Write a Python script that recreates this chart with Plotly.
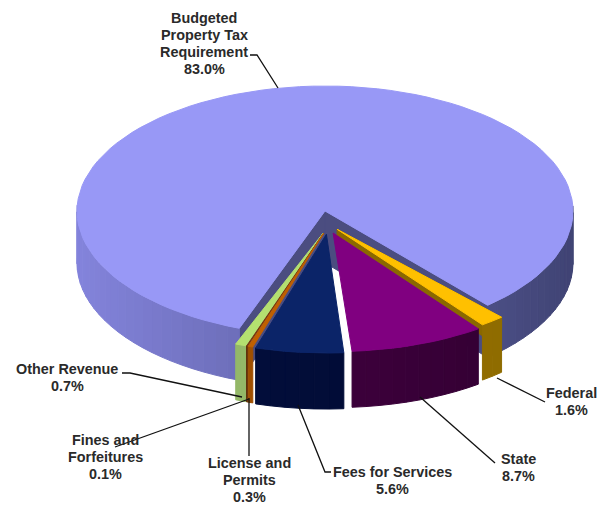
import math
import plotly.graph_objects as go

categories = ["Federal", "State", "Fees for Services", "License and Permits",
              "Fines and Forfeitures", "Other Revenue", "Budgeted Property Tax Requirement"]
values = [1.6, 8.7, 5.6, 0.3, 0.1, 0.7, 83.0]
top_colors = ["#ffc000", "#800080", "#0b2468", "#c06000", "#7a3a10", "#b4e070", "#9898f6"]
side_light = ["#a88000", "#4a0048", "#041040", "#a05000", "#60300c", "#94b868", "#8484dc"]
side_dark = ["#8a6800", "#300030", "#000a30", "#a05000", "#60300c", "#94b868", "#404474"]

label_text = [["Federal", "1.6%"], ["State", "8.7%"], ["Fees for Services", "5.6%"],
              ["License and", "Permits", "0.3%"], ["Fines and", "Forfeitures", "0.1%"],
              ["Other Revenue", "0.7%"], ["Budgeted", "Property Tax", "Requirement", "83.0%"]]
label_x = [571, 518, 392, 249, 105, 67, 204]
label_y = [393, 459, 472, 463, 440, 369, 18]
leader_x = [[497, 545], [420, 495], [298, 325, 331], [249, 249], [249, 115], [122, 130, 242], [250, 257, 278]]
leader_y = [[378, 402], [397, 463], [405, 472, 472], [398, 456], [399, 447], [373, 373, 397], [55, 55, 88]]

CX, CY, RX, H = 325, 211, 248, 52
MAIN_RY, MAIN_K = 125, 0.0
SLICE_RY, SLICE_K = 136, 0.08
START = 139.0
EXPLODE_U, EXPLODE_V, SHIFT_U, R_U, R_V = 0.06, 0.17, 0.012, 0.95, 0.80
STATE_GAP_DEG = 0.25
FEDERAL_WALL = 0.2
LINE_STEP = 17
OFFSET = 8  # the page's body margin


def proj(u, v, z, ry, k):
    w = 1 + k * v
    return CX + RX * u * w, CY + ry * v * w + H * z * w


def hex_rgb(c):
    return tuple(int(c[i:i + 2], 16) for i in (1, 3, 5))


def mix(a, b, t):
    pa, pb = hex_rgb(a), hex_rgb(b)
    return "rgb(%d,%d,%d)" % tuple(pa[i] + (pb[i] - pa[i]) * t for i in range(3))


def poly(fig, pts, color):
    xs = [p[0] for p in pts] + [pts[0][0]]
    ys = [p[1] for p in pts] + [pts[0][1]]
    fig.add_trace(go.Scatter(x=xs, y=ys, mode="lines", fill="toself", fillcolor=color,
                             line=dict(color=color, width=1), hoverinfo="skip", showlegend=False))


def wedge(fig, a0, a1, i, ru, rv, eu, ev, du, ry, k, wall_depth):
    mid = math.radians((a0 + a1) / 2)
    ox, oy = du + eu * math.sin(mid), -ev * math.cos(mid)
    n = max(2, int((a1 - a0) / 3))
    angs = [a0 + (a1 - a0) * j / n for j in range(n + 1)]
    rim = [(ox + ru * math.sin(math.radians(a)), oy - rv * math.cos(math.radians(a))) for a in angs]
    wall = "#4b4d80" if i == 6 else side_dark[i]
    if wall_depth:
        for (u, v) in (rim[0], rim[-1]):
            poly(fig, [proj(ox, oy, 0, ry, k), proj(u, v, 0, ry, k), proj(u, v, wall_depth, ry, k),
                       proj(ox, oy, wall_depth, ry, k)], wall)
    for j in range(n):
        (u0, v0), (u1, v1) = rim[j], rim[j + 1]
        a = (angs[j] + angs[j + 1]) / 2
        if math.cos(math.radians(a)) > 0.02:
            continue
        t = (math.sin(math.radians(a)) + 1) / 2
        poly(fig, [proj(u0, v0, 0, ry, k), proj(u1, v1, 0, ry, k), proj(u1, v1, 1, ry, k), proj(u0, v0, 1, ry, k)],
             mix(side_light[i], side_dark[i], t))
    poly(fig, [proj(ox, oy, 0, ry, k)] + [proj(u, v, 0, ry, k) for u, v in rim], top_colors[i])


fig = go.Figure()
spans = []
a = START
for val in values:
    spans.append((a, a + val * 3.6))
    a += val * 3.6

wedge(fig, spans[6][0], spans[6][1], 6, 1.0, 1.0, 0.0, 0.0, 0.0, MAIN_RY, MAIN_K, 1)
for i in [0, 5, 4, 3, 1, 2]:
    end = spans[i][1] - (STATE_GAP_DEG if i == 1 else 0)
    wedge(fig, spans[i][0], end, i, R_U, R_V, EXPLODE_U, EXPLODE_V, SHIFT_U, SLICE_RY, SLICE_K,
          FEDERAL_WALL if i == 0 else 0)

for lx, ly in zip(leader_x, leader_y):
    fig.add_trace(go.Scatter(x=lx, y=ly, mode="lines", line=dict(color="#111111", width=1.3),
                             hoverinfo="skip", showlegend=False))

for lines, x, y in zip(label_text, label_x, label_y):
    for n, t in enumerate(lines):
        fig.add_annotation(x=x, y=y + n * LINE_STEP, text="<b>" + t + "</b>", showarrow=False,
                           xanchor="center", yanchor="middle",
                           font=dict(family="Liberation Sans", size=14.4, color="#2a2a2a"))

fig.update_layout(width=605 - OFFSET, height=505 - OFFSET, margin=dict(l=0, r=0, t=0, b=0),
                  paper_bgcolor="white", plot_bgcolor="white", showlegend=False,
                  xaxis=dict(range=[OFFSET, 605], visible=False, fixedrange=True),
                  yaxis=dict(range=[505, OFFSET], visible=False, fixedrange=True))
fig.write_html("out.html", config=dict(displayModeBar=False))
